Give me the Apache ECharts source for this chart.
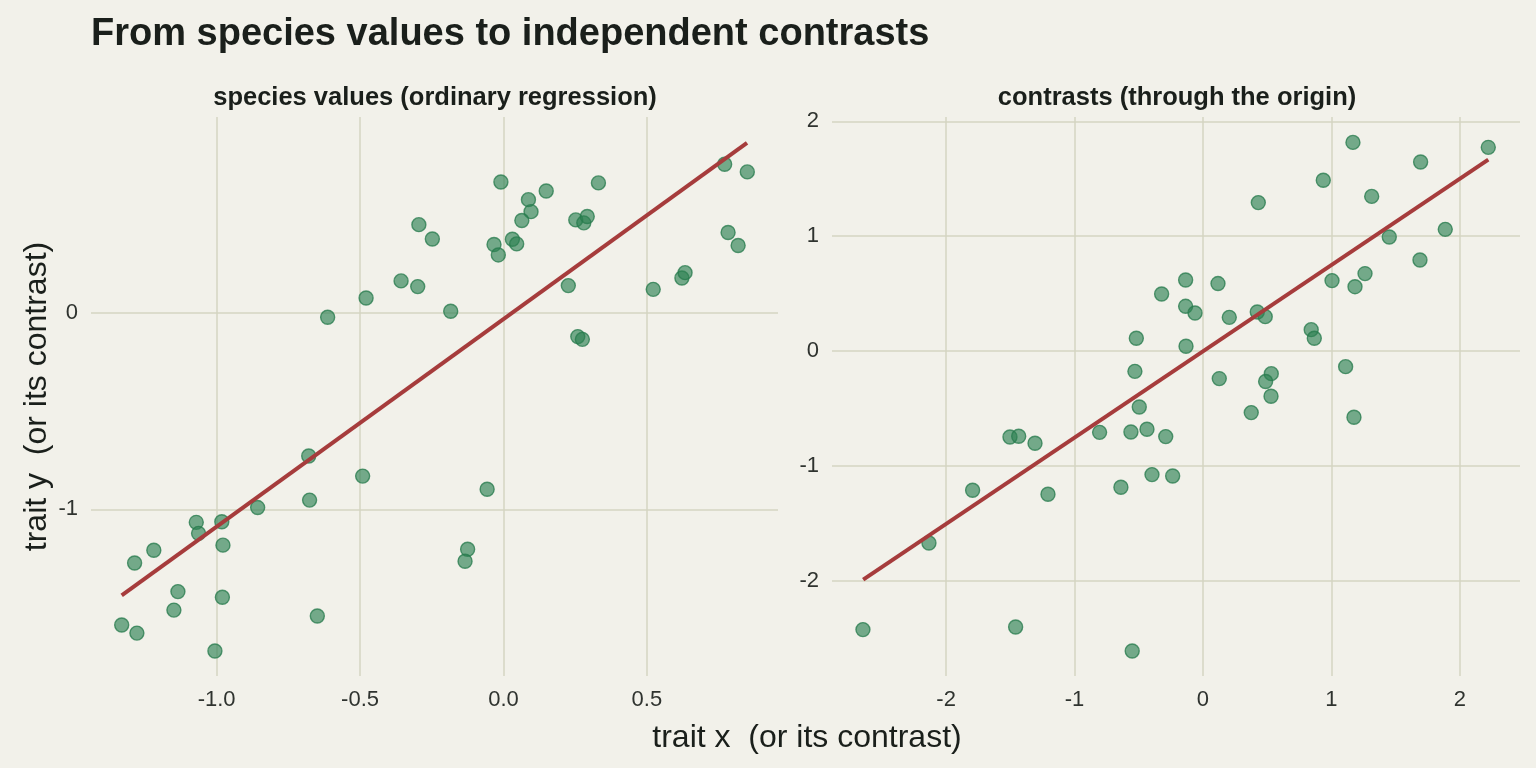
<!DOCTYPE html>
<html>
<head>
<meta charset="utf-8">
<script src="https://cdn.jsdelivr.net/npm/echarts@6/dist/echarts.min.js"></script>
<style>
html,body{margin:0;padding:0;background:#f2f1ea;}
#chart{width:1536px;height:768px;}
</style>
</head>
<body>
<div id="chart"></div>
<script>
// ---- data ----
var speciesX = [-0.613,-0.479,-0.295,-0.248,-0.357,-0.299,-0.184,-0.009,-0.033,-0.018,
  0.031,0.046,0.087,0.096,0.064,0.149,0.226,0.252,0.280,0.292,
  0.331,0.259,0.275,0.522,0.622,0.633,0.771,0.850,0.783,0.818,
  -0.679,-0.491,-0.676,-0.857,-1.071,-0.982,-1.063,-0.978,-1.219,-1.286,
  -1.135,-0.980,-1.149,-0.649,-1.331,-1.278,-1.006,-0.057,-0.125,-0.134];
var speciesY = [-0.024,0.074,0.447,0.374,0.161,0.132,0.007,0.664,0.346,0.293,
  0.373,0.349,0.574,0.513,0.468,0.618,0.137,0.471,0.456,0.488,
  0.659,-0.122,-0.136,0.118,0.176,0.203,0.754,0.715,0.407,0.341,
  -0.729,-0.831,-0.953,-0.991,-1.066,-1.063,-1.122,-1.182,-1.208,-1.273,
  -1.418,-1.447,-1.512,-1.542,-1.588,-1.629,-1.720,-0.898,-1.203,-1.264];
var contrastX = [1.168,2.222,1.695,0.937,1.314,0.431,1.887,1.451,1.690,1.262,
  1.184,1.005,-0.322,-0.135,0.117,-0.135,-0.062,0.205,0.423,0.485,
  0.843,0.867,-0.132,0.127,1.111,0.532,0.488,0.530,0.376,1.176,
  -0.519,-0.530,-0.496,-0.805,-0.561,-0.436,-0.290,-0.397,-0.236,-0.639,
  -1.207,-1.794,-1.503,-1.435,-1.308,-2.134,-2.648,-1.459,-0.551];
var contrastY = [1.816,1.773,1.645,1.486,1.346,1.292,1.059,0.992,0.792,0.674,
  0.560,0.613,0.496,0.618,0.587,0.389,0.331,0.293,0.339,0.299,
  0.186,0.111,0.041,-0.240,-0.136,-0.197,-0.266,-0.394,-0.536,-0.577,
  0.111,-0.177,-0.487,-0.708,-0.705,-0.681,-0.745,-1.076,-1.088,-1.186,
  -1.247,-1.212,-0.748,-0.742,-0.803,-1.671,-2.425,-2.402,-2.611];
var speciesFitX = [-1.331, 0.849];
var speciesFitY = [-1.437, 0.862];
var contrastFitX = [-2.646, 2.222];
var contrastFitY = [-1.990, 1.666];
var leftXTicks = [-1.0, -0.5, 0.0, 0.5];
var leftYTicks = [-1, 0];
var rightXTicks = [-2, -1, 0, 1, 2];
var rightYTicks = [-2, -1, 0, 1, 2];

var FONT = "'Liberation Sans', Arial, Helvetica, sans-serif";
var TXT = '#1a1f1b';
var GRID = '#d5d4c2';

function zip(a, b){ return a.map(function(v,i){ return [v, b[i]]; }); }

function valAxis(idx, min, max, ticks, fmt, extra){
  var ax = {
    type: 'value', gridIndex: idx, min: min, max: max,
    axisLine: {show: false},
    axisTick: {show: false, customValues: ticks},
    axisLabel: {customValues: ticks, formatter: fmt, color: '#2f332f', fontSize: 22, fontFamily: FONT, margin: 13},
    splitLine: {show: true, lineStyle: {color: GRID, width: 1.5}}
  };
  for (var k in extra) ax[k] = extra[k];
  return ax;
}

var pointStyle = {color: 'rgba(44,128,82,0.8)', borderColor: 'rgba(38,122,76,0.95)', borderWidth: 1.4};

var chart = echarts.init(document.getElementById('chart'));
chart.setOption({
  backgroundColor: '#f2f1ea',
  animation: false,
  title: [
    {text: 'From species values to independent contrasts', left: 86, top: 11,
     textStyle: {fontSize: 38, fontWeight: 'bold', color: TXT, fontFamily: FONT}},
    {text: 'species values (ordinary regression)', left: 430, top: 80, textAlign: 'center',
     textStyle: {fontSize: 25.5, fontWeight: 'bold', color: TXT, fontFamily: FONT}},
    {text: 'contrasts (through the origin)', left: 1172, top: 80, textAlign: 'center',
     textStyle: {fontSize: 25.5, fontWeight: 'bold', color: TXT, fontFamily: FONT}},
    {text: 'trait x  (or its contrast)', left: 802, top: 717, textAlign: 'center',
     textStyle: {fontSize: 32, fontWeight: 'normal', color: TXT, fontFamily: FONT}}
  ],
  grid: [
    {left: 91, right: 758, top: 117, bottom: 92},
    {left: 832, right: 16, top: 117, bottom: 92}
  ],
  xAxis: [
    valAxis(0, -1.438, 0.957, leftXTicks, function(v){ return v.toFixed(1); }, {}),
    valAxis(1, -2.889, 2.469, rightXTicks, function(v){ return String(v); }, {})
  ],
  yAxis: [
    valAxis(0, -1.847, 0.994, leftYTicks, function(v){ return String(v); },
      {name: 'trait y  (or its contrast)', nameLocation: 'middle', nameGap: 38, nameRotate: 90,
       nameTextStyle: {fontSize: 32, color: TXT, fontFamily: FONT}}),
    valAxis(1, -2.829, 2.037, rightYTicks, function(v){ return String(v); }, {})
  ],
  series: [
    {type: 'line', xAxisIndex: 0, yAxisIndex: 0, data: zip(speciesFitX, speciesFitY),
     symbol: 'none', lineStyle: {color: '#a63c3c', width: 4}, z: 3, silent: true},
    {type: 'scatter', xAxisIndex: 0, yAxisIndex: 0, data: zip(speciesX, speciesY),
     symbolSize: 14, itemStyle: pointStyle, z: 2},
    {type: 'line', xAxisIndex: 1, yAxisIndex: 1, data: zip(contrastFitX, contrastFitY),
     symbol: 'none', lineStyle: {color: '#a63c3c', width: 4}, z: 3, silent: true},
    {type: 'scatter', xAxisIndex: 1, yAxisIndex: 1, data: zip(contrastX, contrastY),
     symbolSize: 14, itemStyle: pointStyle, z: 2}
  ]
});
</script>
</body>
</html>
